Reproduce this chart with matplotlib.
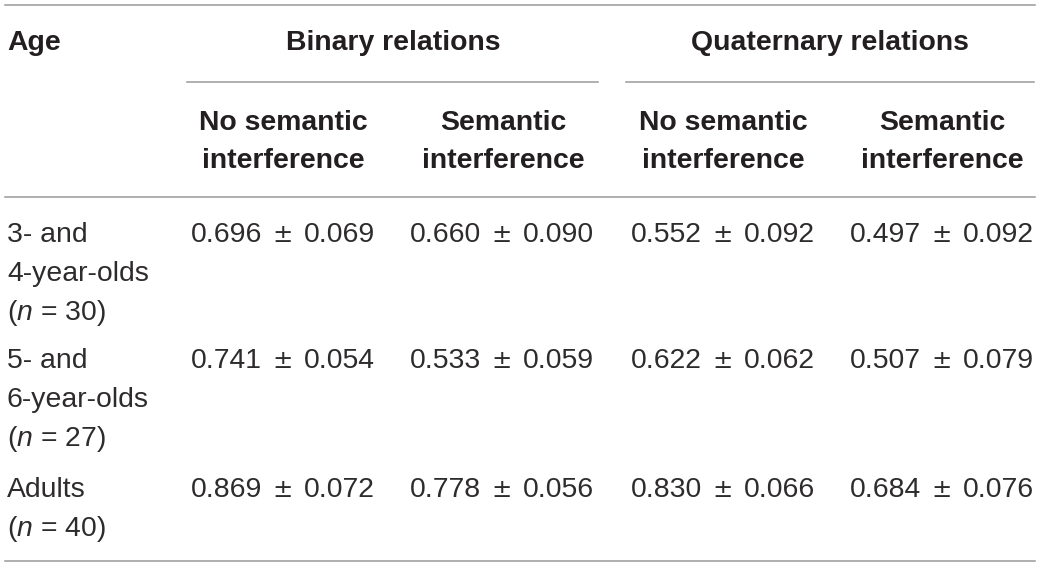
import matplotlib.pyplot as plt

# Table contents
groups = ["Binary relations", "Quaternary relations"]
conditions = ["No semantic\ninterference", "Semantic\ninterference",
              "No semantic\ninterference", "Semantic\ninterference"]
ages = [["3- and", "4-year-olds", "($n$ = 30)"],
        ["5- and", "6-year-olds", "($n$ = 27)"],
        ["Adults", "($n$ = 40)"]]
means = [[0.696, 0.660, 0.552, 0.497],
         [0.741, 0.533, 0.622, 0.507],
         [0.869, 0.778, 0.830, 0.684]]
sds = [[0.069, 0.090, 0.092, 0.092],
       [0.054, 0.059, 0.062, 0.079],
       [0.072, 0.056, 0.066, 0.076]]

plt.rcParams['font.family'] = ['Liberation Sans', 'DejaVu Sans']
plt.rcParams['mathtext.fontset'] = 'custom'
plt.rcParams['mathtext.it'] = 'Liberation Sans:italic'
plt.rcParams['mathtext.rm'] = 'Liberation Sans'

txt = "#231f20"
body = "#2e2b2c"
rule = "#9a9a9a"
fs = 20.4

fig = plt.figure(figsize=(10.4, 5.67), dpi=100)
ax = fig.add_axes([0, 0, 1, 1])
ax.set_xlim(0, 1040)
ax.set_ylim(567, 0)
ax.axis("off")

# horizontal rules
ax.plot([5, 1035], [5, 5], color=rule, lw=1.1)
ax.plot([187, 598], [82, 82], color=rule, lw=1.1)
ax.plot([626, 1034], [82, 82], color=rule, lw=1.1)
ax.plot([5, 1035], [197, 197], color=rule, lw=1.1)
ax.plot([5, 1035], [561, 561], color=rule, lw=1.1)

# header
ax.text(7, 50, "Age", fontsize=fs, fontweight="bold", color=txt, va="baseline")
group_x = [393, 830]
for gx, g in zip(group_x, groups):
    ax.text(gx, 50, g, fontsize=fs, fontweight="bold", color=txt,
            ha="center", va="baseline")

cond_x = [283, 503, 723, 942]
for cx, c in zip(cond_x, conditions):
    for k, line in enumerate(c.split("\n")):
        ax.text(cx, 130 + 38 * k, line, fontsize=fs, fontweight="bold",
                color=txt, ha="center", va="baseline")

# body
row_y = [242, 368, 497]
col_x = [191, 410, 631, 850]
for r, y0 in enumerate(row_y):
    for k, line in enumerate(ages[r]):
        ax.text(7, y0 + 39 * k, line, fontsize=fs, color=body, va="baseline")
    for c, x0 in enumerate(col_x):
        ax.text(x0, y0, f"{means[r][c]:.3f}", fontsize=fs, color=body,
                va="baseline")
        ax.text(x0 + 92, y0, "\u00b1", fontsize=17.5, family="DejaVu Sans",
                color=body, ha="center", va="baseline")
        ax.text(x0 + 113, y0, f"{sds[r][c]:.3f}", fontsize=fs, color=body,
                va="baseline")

fig.savefig("out.png", dpi=100)
